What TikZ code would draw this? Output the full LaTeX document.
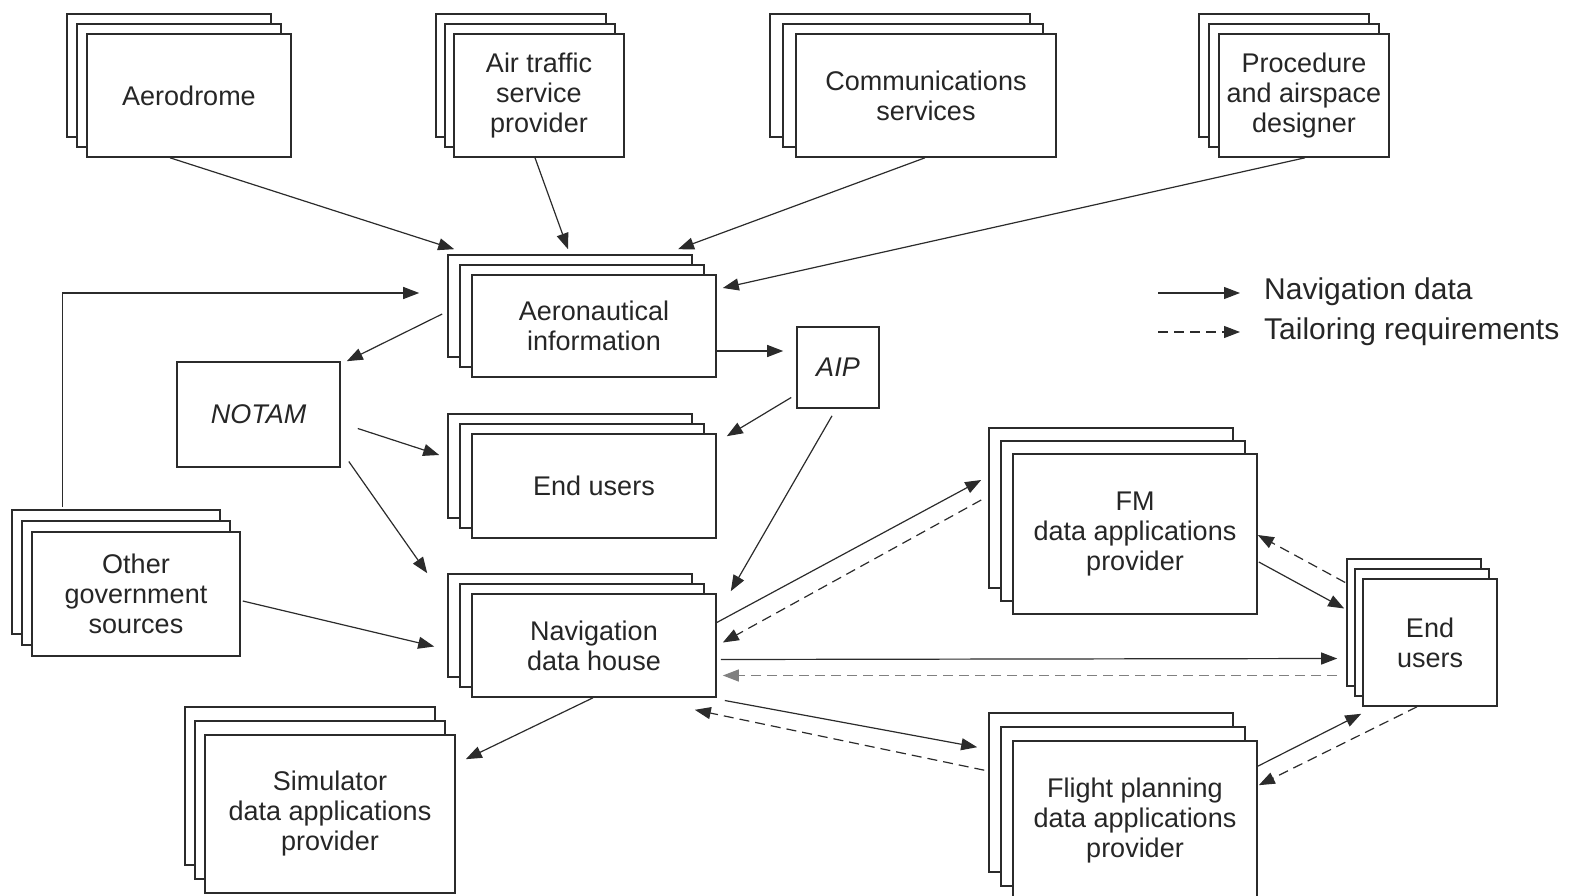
\documentclass[tikz,border=0pt]{standalone}
\usepackage{fontspec}
\setmainfont{Liberation Sans}
\usetikzlibrary{arrows.meta,shadows}
\definecolor{ln}{HTML}{2B2B2B}
\definecolor{tx}{HTML}{262626}
\begin{document}
\begin{tikzpicture}[x=1pt,y=-1pt,
 box/.style={draw=ln, line width=1.6pt, fill=white, inner sep=0pt, align=center, text=tx, font=\fontsize{27}{30}\selectfont},
 stack/.style 2 args={box,
   general shadow={shadow scale=1, shadow xshift={-2*#1pt}, shadow yshift={2*#2pt}, draw=ln, fill=white, line width=1.6pt},
   general shadow={shadow scale=1, shadow xshift={-#1pt}, shadow yshift={#2pt}, draw=ln, fill=white, line width=1.6pt}},
 sz/.style 2 args={minimum width=#1pt, minimum height=#2pt},
 nd/.style={draw=ln, line width=1.2pt, -{Triangle[length=16pt,width=12pt]}},
 td/.style={nd, dash pattern=on 10pt off 6pt},
 lgtext/.style={anchor=west, text=tx, inner sep=0pt, font=\fontsize{30}{33}\selectfont}]
\useasboundingbox (0,0) rectangle (1569,896);

% top row
\node[stack={10}{10}, sz={204}{123}] (aero) at (189,95.5) {Aerodrome};
\node[stack={9}{10}, sz={170}{123}] (ats) at (539,95.5) {Air traffic\\service\\provider};
\node[stack={13}{10}, sz={260}{123}] (comm) at (926,95.5) {Communications\\services};
\node[stack={10}{10}, sz={170}{123}] (proc) at (1304,95.5) {Procedure\\and airspace\\designer};

% middle column
\node[stack={12}{10}, sz={244}{102}] (ai) at (594,326) {Aeronautical\\information};
\node[box, sz={82}{81}] (aip) at (838,367.5) {\itshape AIP};
\node[box, sz={163}{105}] (notam) at (258.5,414.5) {\itshape NOTAM};
\node[stack={12}{10}, sz={244}{104}] (eu1) at (594,486) {End users};
\node[stack={10}{11}, sz={208}{124}] (ogs) at (136,594) {Other\\government\\sources};
\node[stack={12}{10}, sz={244}{103}] (nav) at (594,645.5) {Navigation\\data house};
\node[stack={10}{14}, sz={250}{158}] (sim) at (330,814) {Simulator\\data applications\\provider};

% right side
\node[stack={12}{13}, sz={244}{160}] (fm) at (1135,534) {FM\\data applications\\provider};
\node[stack={8}{10}, sz={134}{127}] (eu2) at (1430,642.5) {End\\users};
\node[stack={12}{14}, sz={244}{159}] (fp) at (1135,820.5) {Flight planning\\data applications\\provider};

% legend
\coordinate (l1a) at (1158,293);
\coordinate (l1b) at (1240,293);
\coordinate (l2a) at (1158,332);
\coordinate (l2b) at (1240,332);
\draw[nd] (l1a) -- (l1b);
\draw[td] (l2a) -- (l2b);
\node[lgtext] (lg1) at (1264,292) {Navigation data};
\node[lgtext] (lg2) at (1264,332) {Tailoring requirements};

% connectors into aeronautical information
\draw[nd] ([shift={(-19,0)}]aero.south) -- ([shift={(-17,-25)}]ai.north west);
\draw[nd] ([shift={(-4,0)}]ats.south) -- ([shift={(-26,-25)}]ai.north);
\draw[nd] ([shift={(-1,0)}]comm.south) -- ([shift={(84,-25)}]ai.north);
\draw[nd] ([shift={(1,0)}]proc.south) -- ([shift={(6,-38)}]ai.east);
\draw[nd] ([shift={(31,-24)}]ogs.north west) |- ([shift={(-52,-33)}]ai.west);

% from aeronautical information
\draw[nd] ([shift={(-29,-12)}]ai.west) -- ([shift={(6,0)}]notam.north east);
\draw[nd] ([shift={(0,25)}]ai.east) -- ([shift={(-13,-16.5)}]aip.west);

% from AIP
\draw[nd] ([shift={(-5,30)}]aip.west) -- ([shift={(10,3)}]eu1.north east);
\draw[nd] ([shift={(-6,7)}]aip.south) -- ([shift={(14,-2)}]nav.north east);

% from NOTAM
\draw[nd] ([shift={(17,14)}]notam.east) -- ([shift={(-32,-31)}]eu1.west);
\draw[nd] ([shift={(8,47)}]notam.east) -- ([shift={(-44,-20)}]nav.north west);

% other government sources to navigation data house
\draw[nd] ([shift={(2,7)}]ogs.east) -- ([shift={(-37,1)}]nav.west);

% navigation data house to simulator
\draw[nd] ([shift={(-1,0)}]nav.south) -- ([shift={(10,25)}]sim.north east);

% navigation data house <-> FM
\draw[nd] ([shift={(0,-23)}]nav.east) -- ([shift={(-31,-54)}]fm.west);
\draw[td] ([shift={(-31,-34)}]fm.west) -- ([shift={(6,-3)}]nav.east);

% navigation data house <-> end users
\draw[nd] ([shift={(4,14)}]nav.east) -- ([shift={(-25,16)}]eu2.west);
\draw[td, draw=gray] ([shift={(-25,33)}]eu2.west) -- ([shift={(6,30)}]nav.east);

% navigation data house <-> flight planning
\draw[nd] ([shift={(8,55)}]nav.east) -- ([shift={(-35,7)}]fp.north west);
\draw[td] ([shift={(-28,30)}]fp.north west) -- ([shift={(-22,12)}]nav.south east);

% FM <-> end users
\draw[nd] ([shift={(1,28)}]fm.east) -- ([shift={(-18,-34)}]eu2.west);
\draw[td] ([shift={(-17,-60)}]eu2.west) -- ([shift={(0,1)}]fm.east);

% flight planning <-> end users
\draw[nd] ([shift={(0,26)}]fp.north east) -- ([shift={(-1,7)}]eu2.south west);
\draw[td] ([shift={(-13,0)}]eu2.south) -- ([shift={(1,45)}]fp.north east);
\end{tikzpicture}
\end{document}
